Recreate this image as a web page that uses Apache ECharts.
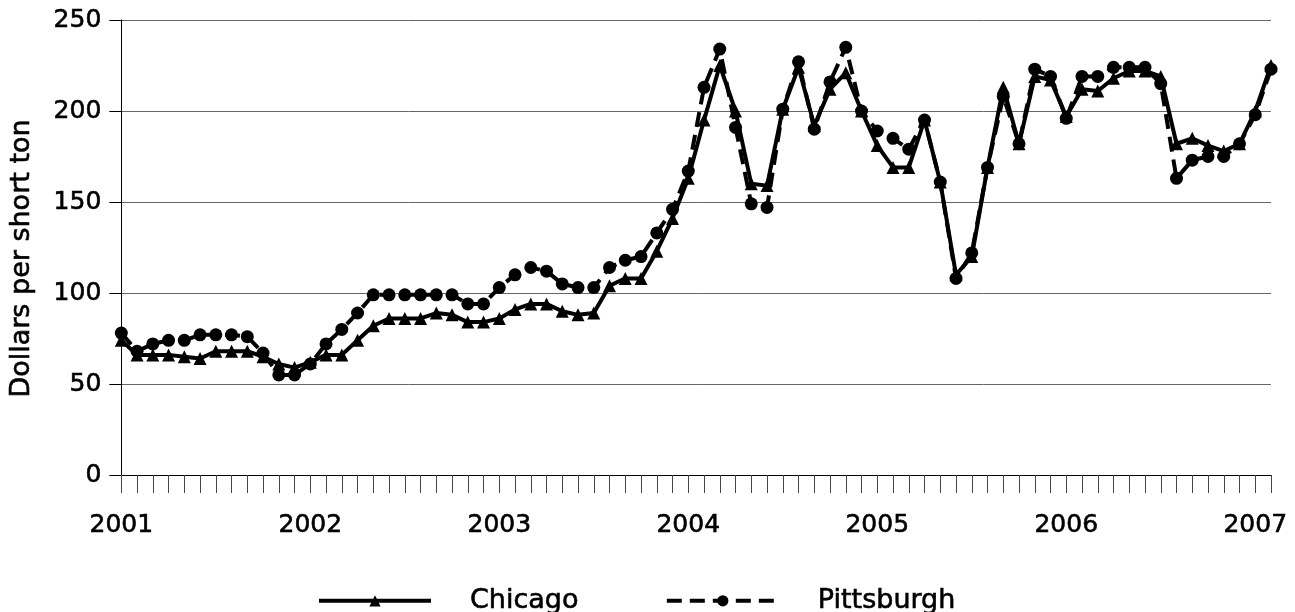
<!DOCTYPE html>
<html>
<head>
<meta charset="utf-8">
<script src="https://cdn.jsdelivr.net/npm/echarts@6/dist/echarts.min.js"></script>
<style>
  html, body { margin: 0; padding: 0; background: #fff; }
  #chart { width: 1295px; height: 612px; }
</style>
</head>
<body>
<div id="chart"></div>
<script>
// Monthly coal prices, January 2001 through February 2007 (dollars per short ton)
const years = [2001, 2002, 2003, 2004, 2005, 2006, 2007];
const monthsInLastYear = 2;

const chicago = [
  74, 66, 66, 66, 65, 64, 68, 68, 68, 65, 61, 59,
  62, 66, 66, 74, 82, 86, 86, 86, 89, 88, 84, 84,
  86, 91, 94, 94, 90, 88, 89, 104, 108, 108, 123, 141,
  163, 195, 225, 200, 160, 159, 201, 224, 192, 212, 221, 200,
  181, 169, 169, 195, 161, 110, 120, 169, 213, 182, 219, 217,
  197, 212, 211, 218, 222, 222, 219, 182, 185, 181, 178, 182,
  200, 225
];

const pittsburgh = [
  78, 68, 72, 74, 74, 77, 77, 77, 76, 67, 55, 55,
  61, 72, 80, 89, 99, 99, 99, 99, 99, 99, 94, 94,
  103, 110, 114, 112, 105, 103, 103, 114, 118, 120, 133, 146,
  167, 213, 234, 191, 149, 147, 201, 227, 190, 216, 235, 200,
  189, 185, 179, 195, 161, 108, 122, 169, 208, 182, 223, 219,
  196, 219, 219, 224, 224, 224, 215, 163, 173, 175, 175, 182,
  198, 223
];

const yTicks = [0, 50, 100, 150, 200, 250];

// One category per month, labelled by year at each January
const months = [];
years.forEach(function (y, k) {
  const count = k === years.length - 1 ? monthsInLastYear : 12;
  for (let m = 1; m <= count; m++) {
    months.push(y + '-' + (m < 10 ? '0' + m : m));
  }
});

const FONT = 'DejaVu Sans';
// a thin outline in the text colour gives the labels a slightly heavier stroke
const heavy = { textBorderColor: '#000', textBorderWidth: 0.6 };

const chart = echarts.init(document.getElementById('chart'), null, { renderer: 'canvas' });

chart.setOption({
  animation: false,
  backgroundColor: '#ffffff',
  grid: { left: 121, right: 24, top: 20, bottom: 137, containLabel: false },
  legend: {
    top: 582,
    left: 312,
    itemWidth: 112,
    itemHeight: 14,
    itemGap: 86,
    lineStyle: { width: 4 },
    textStyle: Object.assign({ fontFamily: FONT, fontSize: 27, color: '#000', padding: [0, 0, 0, 34] }, heavy),
    data: ['Chicago', 'Pittsburgh']
  },
  xAxis: {
    type: 'category',
    data: months,
    boundaryGap: false,
    axisLine: { lineStyle: { color: '#000', width: 1 } },
    axisTick: { show: true, interval: 0, length: 18, lineStyle: { color: '#444', width: 1 } },
    axisLabel: Object.assign({
      interval: function (index) { return index % 12 === 0; },
      formatter: function (v) { return v.slice(0, 4); },
      margin: 38,
      fontFamily: FONT,
      fontSize: 25,
      color: '#000'
    }, heavy),
    splitLine: { show: false }
  },
  yAxis: {
    type: 'value',
    min: yTicks[0],
    max: yTicks[yTicks.length - 1],
    interval: 50,
    name: 'Dollars per short ton',
    nameLocation: 'middle',
    nameGap: 86,
    nameRotate: 90,
    nameTextStyle: Object.assign({ fontFamily: FONT, fontSize: 27, color: '#000', padding: [0, 22, 0, 0] }, heavy),
    axisLine: { show: true, lineStyle: { color: '#000', width: 1 } },
    axisTick: { show: true, length: 12, lineStyle: { color: '#000', width: 1 } },
    axisLabel: Object.assign({ margin: 20, fontFamily: FONT, fontSize: 25, color: '#000' }, heavy),
    splitLine: { show: true, lineStyle: { color: '#666', width: 1 } }
  },
  series: [
    {
      name: 'Chicago',
      type: 'line',
      data: chicago,
      symbol: 'triangle',
      symbolSize: 13,
      showAllSymbol: true,
      lineStyle: { color: '#000', width: 4, type: 'solid' },
      itemStyle: { color: '#000' },
      z: 2
    },
    {
      name: 'Pittsburgh',
      type: 'line',
      data: pittsburgh,
      symbol: 'circle',
      symbolSize: 13,
      showAllSymbol: true,
      lineStyle: { color: '#000', width: 4, type: [15, 8] },
      itemStyle: { color: '#000' },
      z: 3
    }
  ]
});
</script>
</body>
</html>
